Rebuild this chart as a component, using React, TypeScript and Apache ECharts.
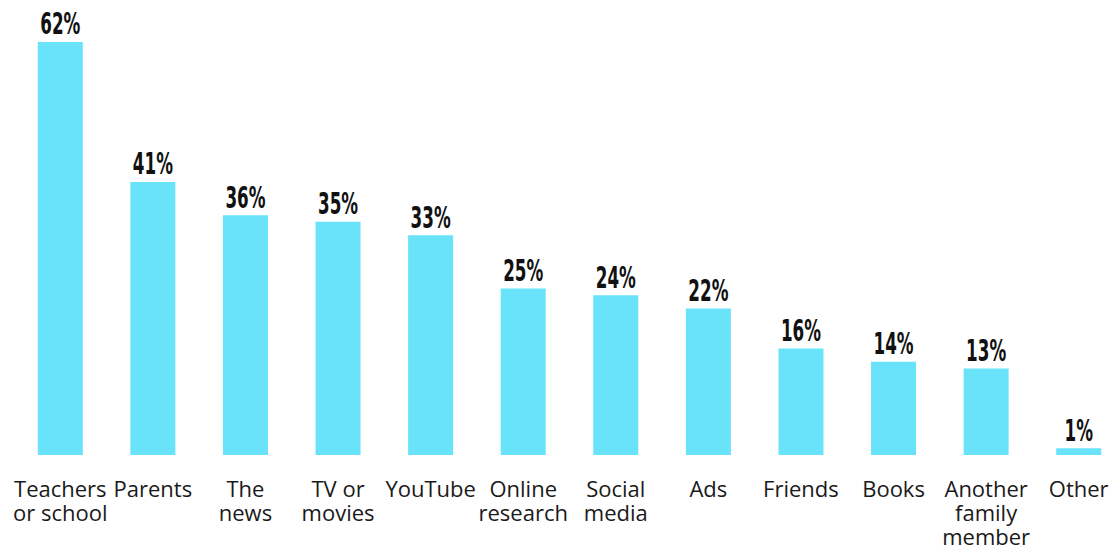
import React, { useEffect, useRef } from "react";
import * as echarts from "echarts";

const categories = [
  "Teachers\nor school",
  "Parents",
  "The\nnews",
  "TV or\nmovies",
  "YouTube",
  "Online\nresearch",
  "Social\nmedia",
  "Ads",
  "Friends",
  "Books",
  "Another\nfamily\nmember",
  "Other",
];
const values = [62, 41, 36, 35, 33, 25, 24, 22, 16, 14, 13, 1];

export default function App() {
  const ref = useRef<HTMLDivElement>(null);
  useEffect(() => {
    if (!ref.current) return;
    const chart = echarts.init(ref.current, null, { renderer: "svg" });
    chart.setOption({
      animation: false,
      grid: {
        left: 14,
        right: 5,
        top: 42,
        bottom: 91,
        containLabel: false,
        outerBoundsMode: "none",
      },
      xAxis: {
        type: "category",
        data: categories,
        axisLine: { show: false },
        axisTick: { show: false },
        axisLabel: {
          interval: 0,
          margin: 21,
          fontFamily: "'Open Sans', sans-serif",
          fontSize: 22,
          lineHeight: 24,
          color: "#1a1a1a",
          align: "center",
        },
      },
      yAxis: { type: "value", min: 0, max: 62, show: false },
      series: [
        {
          type: "bar",
          data: values,
          barWidth: 45,
          itemStyle: { color: "#68e3fa" },
        },
        {
          type: "custom",
          data: values.map((v, i) => [i, v]),
          renderItem: (params: any, api: any) => {
            const p = api.coord([api.value(0), api.value(1)]);
            return {
              type: "text",
              x: p[0],
              y: p[1] - 3,
              scaleX: 0.6,
              style: {
                text: api.value(1) + "%",
                font: "bold 31px 'Liberation Sans Narrow', 'DejaVu Sans Condensed', sans-serif",
                textAlign: "center",
                textVerticalAlign: "bottom",
                fill: "#111",
              },
            };
          },
        },
      ],
    });
    return () => chart.dispose();
  }, []);
  return (
    <div style={{ position: "absolute", left: 0, top: 0, width: 1115, height: 546, overflow: "hidden" }}>
      <div ref={ref} style={{ width: 1130, height: 546 }} />
    </div>
  );
}
